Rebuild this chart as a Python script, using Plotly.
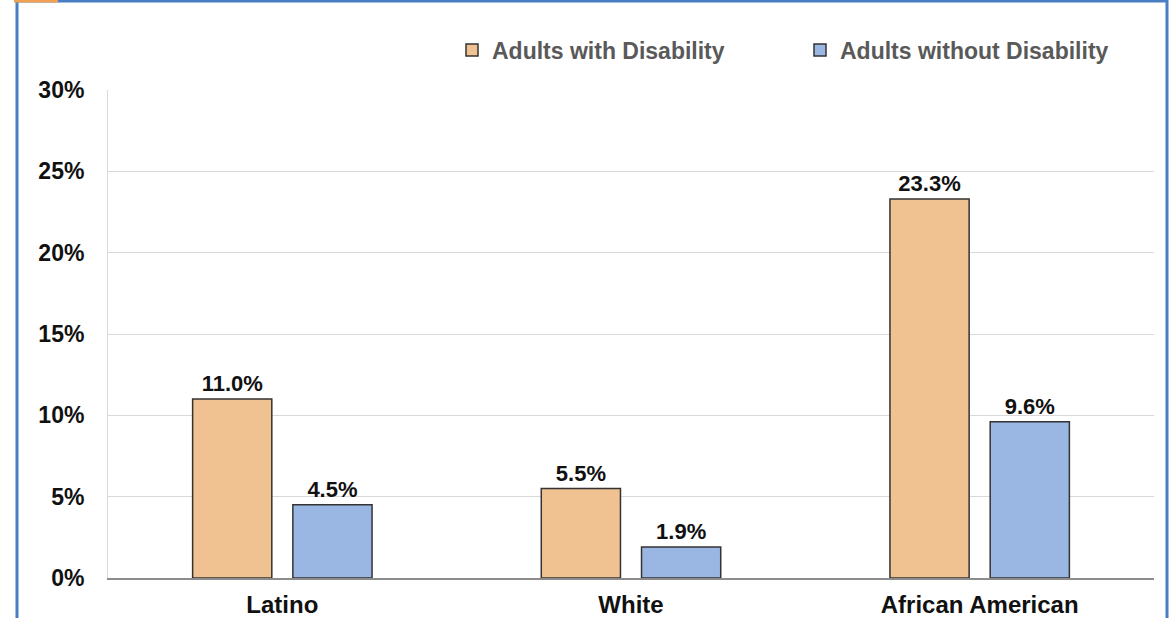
import plotly.graph_objects as go

# data
groups = ["Latino", "White", "African American"]
with_disability = [11.0, 5.5, 23.3]
without_disability = [4.5, 1.9, 9.6]
series_names = ["Adults with Disability", "Adults without Disability"]

W, H = 1171, 618
L, R, T, B = 108, 17, 90, 40

def px_x(p):
    return (p - L) / (W - L - R)

def px_y(p):
    return 1 - (p - T) / (H - T - B)

font_main = "Liberation Sans, Arial, sans-serif"

fig = go.Figure()
fig.add_trace(go.Bar(x=groups, y=with_disability, name=series_names[0],
                     marker=dict(color="#f0c292", line=dict(color="#333333", width=1.5)),
                     text=["%.1f%%" % v for v in with_disability], textposition="outside",
                     textfont=dict(size=22, color="#111111", family=font_main),
                     cliponaxis=False))
fig.add_trace(go.Bar(x=groups, y=without_disability, name=series_names[1],
                     marker=dict(color="#9ab6e2", line=dict(color="#333333", width=1.5)),
                     text=["%.1f%%" % v for v in without_disability], textposition="outside",
                     textfont=dict(size=22, color="#111111", family=font_main),
                     cliponaxis=False))

fig.update_layout(
    width=W, height=H,
    margin=dict(l=L, r=R, t=T, b=B, autoexpand=False),
    paper_bgcolor="white", plot_bgcolor="white",
    barmode="group", bargap=0.425, bargroupgap=0.21,
    font=dict(family=font_main, size=22, color="#111111"),
    legend=dict(orientation="h", x=px_x(452), xanchor="left", y=px_y(50), yanchor="middle",
                font=dict(size=23, color="#595959", family=font_main), entrywidth=303,
                itemwidth=30, bgcolor="rgba(0,0,0,0)"),
    uniformtext=dict(mode=False),
)
fig.update_yaxes(range=[0, 30], dtick=5, ticksuffix="%", showgrid=True, gridcolor="#d9d9d9",
                 gridwidth=1, zeroline=False, showline=True, linecolor="#d9d9d9",
                 tickfont=dict(size=23, color="#111111"), ticks="", ticklabelstandoff=18)
fig.update_xaxes(showline=True, linecolor="#8c8c8c", linewidth=1.5, ticks="",
                 tickfont=dict(size=24, color="#111111"), ticklabelstandoff=4)
fig.update_layout(yaxis_tickfont_weight="bold", xaxis_tickfont_weight="bold",
                  legend_font_weight="bold")
fig.update_traces(textfont_weight="bold")

# slide border
blue = "#4a7ec4"
fig.add_shape(type="line", xref="paper", yref="paper", x0=px_x(17), x1=px_x(17), y0=px_y(0), y1=px_y(618),
              line=dict(color=blue, width=3))
fig.add_shape(type="line", xref="paper", yref="paper", x0=px_x(17), x1=px_x(1168), y0=px_y(1), y1=px_y(1),
              line=dict(color=blue, width=3))
fig.add_shape(type="line", xref="paper", yref="paper", x0=px_x(1167), x1=px_x(1167), y0=px_y(0), y1=px_y(618),
              line=dict(color=blue, width=3))
fig.add_shape(type="line", xref="paper", yref="paper", x0=px_x(14), x1=px_x(58), y0=px_y(1), y1=px_y(1),
              line=dict(color="#f0a050", width=3))

# page has a default body margin, drop it so the figure sits at 0,0
fig.write_html("out.html", config={"displayModeBar": False},
               post_script="document.body.style.margin='0';")
